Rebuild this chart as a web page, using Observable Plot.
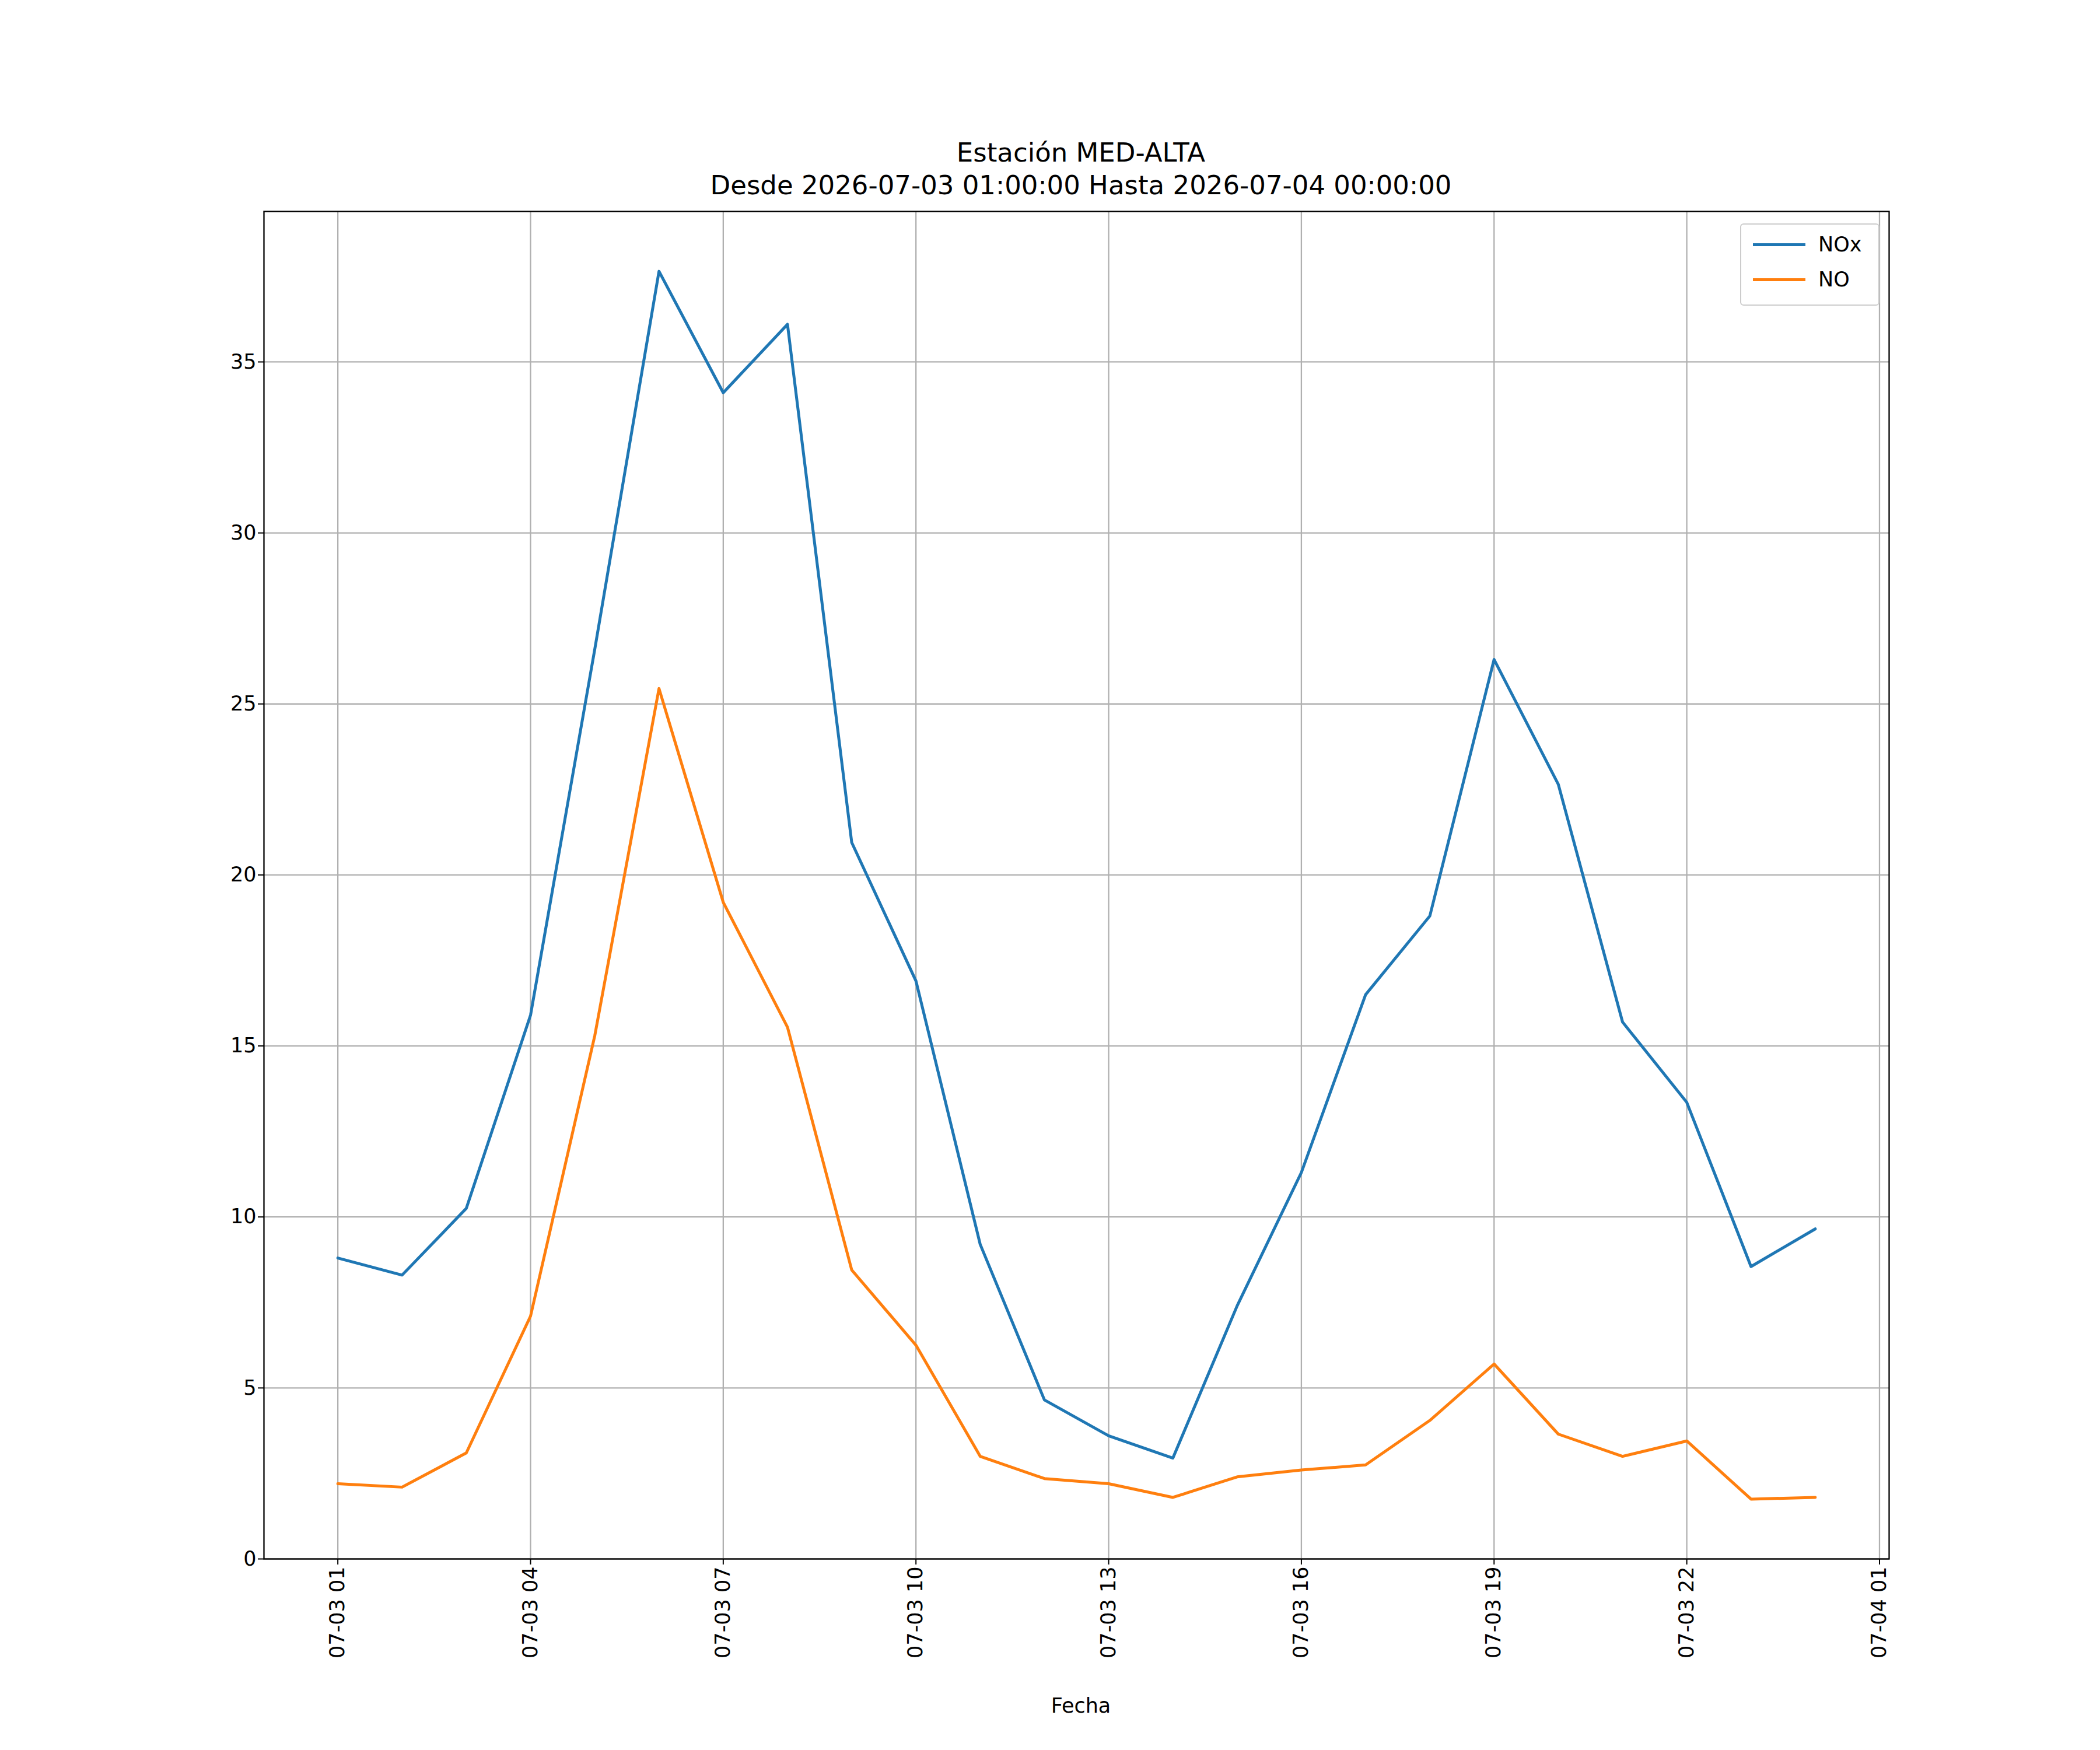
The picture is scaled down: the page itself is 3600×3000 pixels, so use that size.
<!DOCTYPE html>
<html><head><meta charset="utf-8">
<script src="https://cdn.jsdelivr.net/npm/d3@7"></script>
<script src="https://cdn.jsdelivr.net/npm/@observablehq/plot@0.6"></script>
<style>
body{margin:0;background:#fff;font-family:"DejaVu Sans",sans-serif;}
#wrap{position:relative;width:3600px;height:3000px;background:#fff;}
.t{position:absolute;left:53px;width:3600px;text-align:center;font-size:45px;color:#000;line-height:56px;}
#legend{position:absolute;left:2983px;top:383px;width:235px;height:137px;border:2px solid #ccc;border-radius:6px;background:#fff;font-size:35px;}
.li{position:absolute;left:20px;display:flex;align-items:center;}
.li span{display:inline-block;width:90px;height:5px;margin-right:22px;}
</style></head><body>
<div id="wrap">
<div class="t" style="top:234px">Estación MED-ALTA<br>Desde 2026-07-03 01:00:00 Hasta 2026-07-04 00:00:00</div>
<div id="chart" style="position:absolute;left:0;top:360px;"></div>
<div class="t" style="top:2896px;font-size:35px">Fecha</div>
<div id="legend">
<div class="li" style="top:14px"><span style="background:#1f77b4"></span>NOx</div>
<div class="li" style="top:74px"><span style="background:#ff7f0e"></span>NO</div>
</div>
</div>
<script>
const hours = [1,2,3,4,5,6,7,8,9,10,11,12,13,14,15,16,17,18,19,20,21,22,23,24];
const nox = [8.8,8.3,10.25,15.9,26.6,37.65,34.1,36.1,20.95,16.9,9.2,4.65,3.6,2.95,7.4,11.3,16.5,18.8,26.3,22.65,15.7,13.35,8.55,9.65];
const no = [2.2,2.1,3.1,7.1,15.3,25.45,19.2,15.55,8.45,6.25,3.0,2.35,2.2,1.8,2.4,2.6,2.75,4.05,5.7,3.65,3.0,3.45,1.75,1.8];
const yTicks = [0,5,10,15,20,25,30,35];
const xTickHours = [1,4,7,10,13,16,19,22,25];

const t = h => new Date(Date.UTC(2026,6,3,0) + h*3600e3);
const data = [];
hours.forEach((h,i)=>{data.push({d:t(h),v:nox[i],s:"NOx"});data.push({d:t(h),v:no[i],s:"NO"});});
const xt = xTickHours.map(t);
const fmt = d3.utcFormat("%m-%d %H");

const chart = Plot.plot({
  width:3600, height:2640,
  marginTop:2, marginLeft:452, marginRight:362, marginBottom:328,
  style:{fontSize:"35px",fontFamily:"DejaVu Sans",color:"#000"},
  x:{type:"utc",domain:[t(1-1.15),t(24+1.15)],ticks:xt,tickFormat:fmt,tickRotate:-90,label:null,tickSize:10,tickPadding:8},
  y:{domain:[0,39.4],ticks:yTicks,label:null,tickSize:10,tickPadding:8},
  color:{domain:["NOx","NO"],range:["#1f77b4","#ff7f0e"]},
  marks:[
    Plot.gridX(xt,{stroke:"#b0b0b0",strokeOpacity:1,strokeWidth:2.3}),
    Plot.gridY(yTicks,{stroke:"#b0b0b0",strokeOpacity:1,strokeWidth:2.3}),
    Plot.line(data,{x:"d",y:"v",z:"s",stroke:"s",strokeWidth:5}),
    Plot.axisX({ticks:xt,tickFormat:fmt,tickRotate:-90,tickSize:10,strokeWidth:2,label:null}),
    Plot.axisY({ticks:yTicks,tickSize:10,strokeWidth:2,label:null}),
    Plot.frame({stroke:"#000",strokeWidth:2.3})
  ]
});
document.getElementById("chart").appendChild(chart);
</script>
</body></html>
